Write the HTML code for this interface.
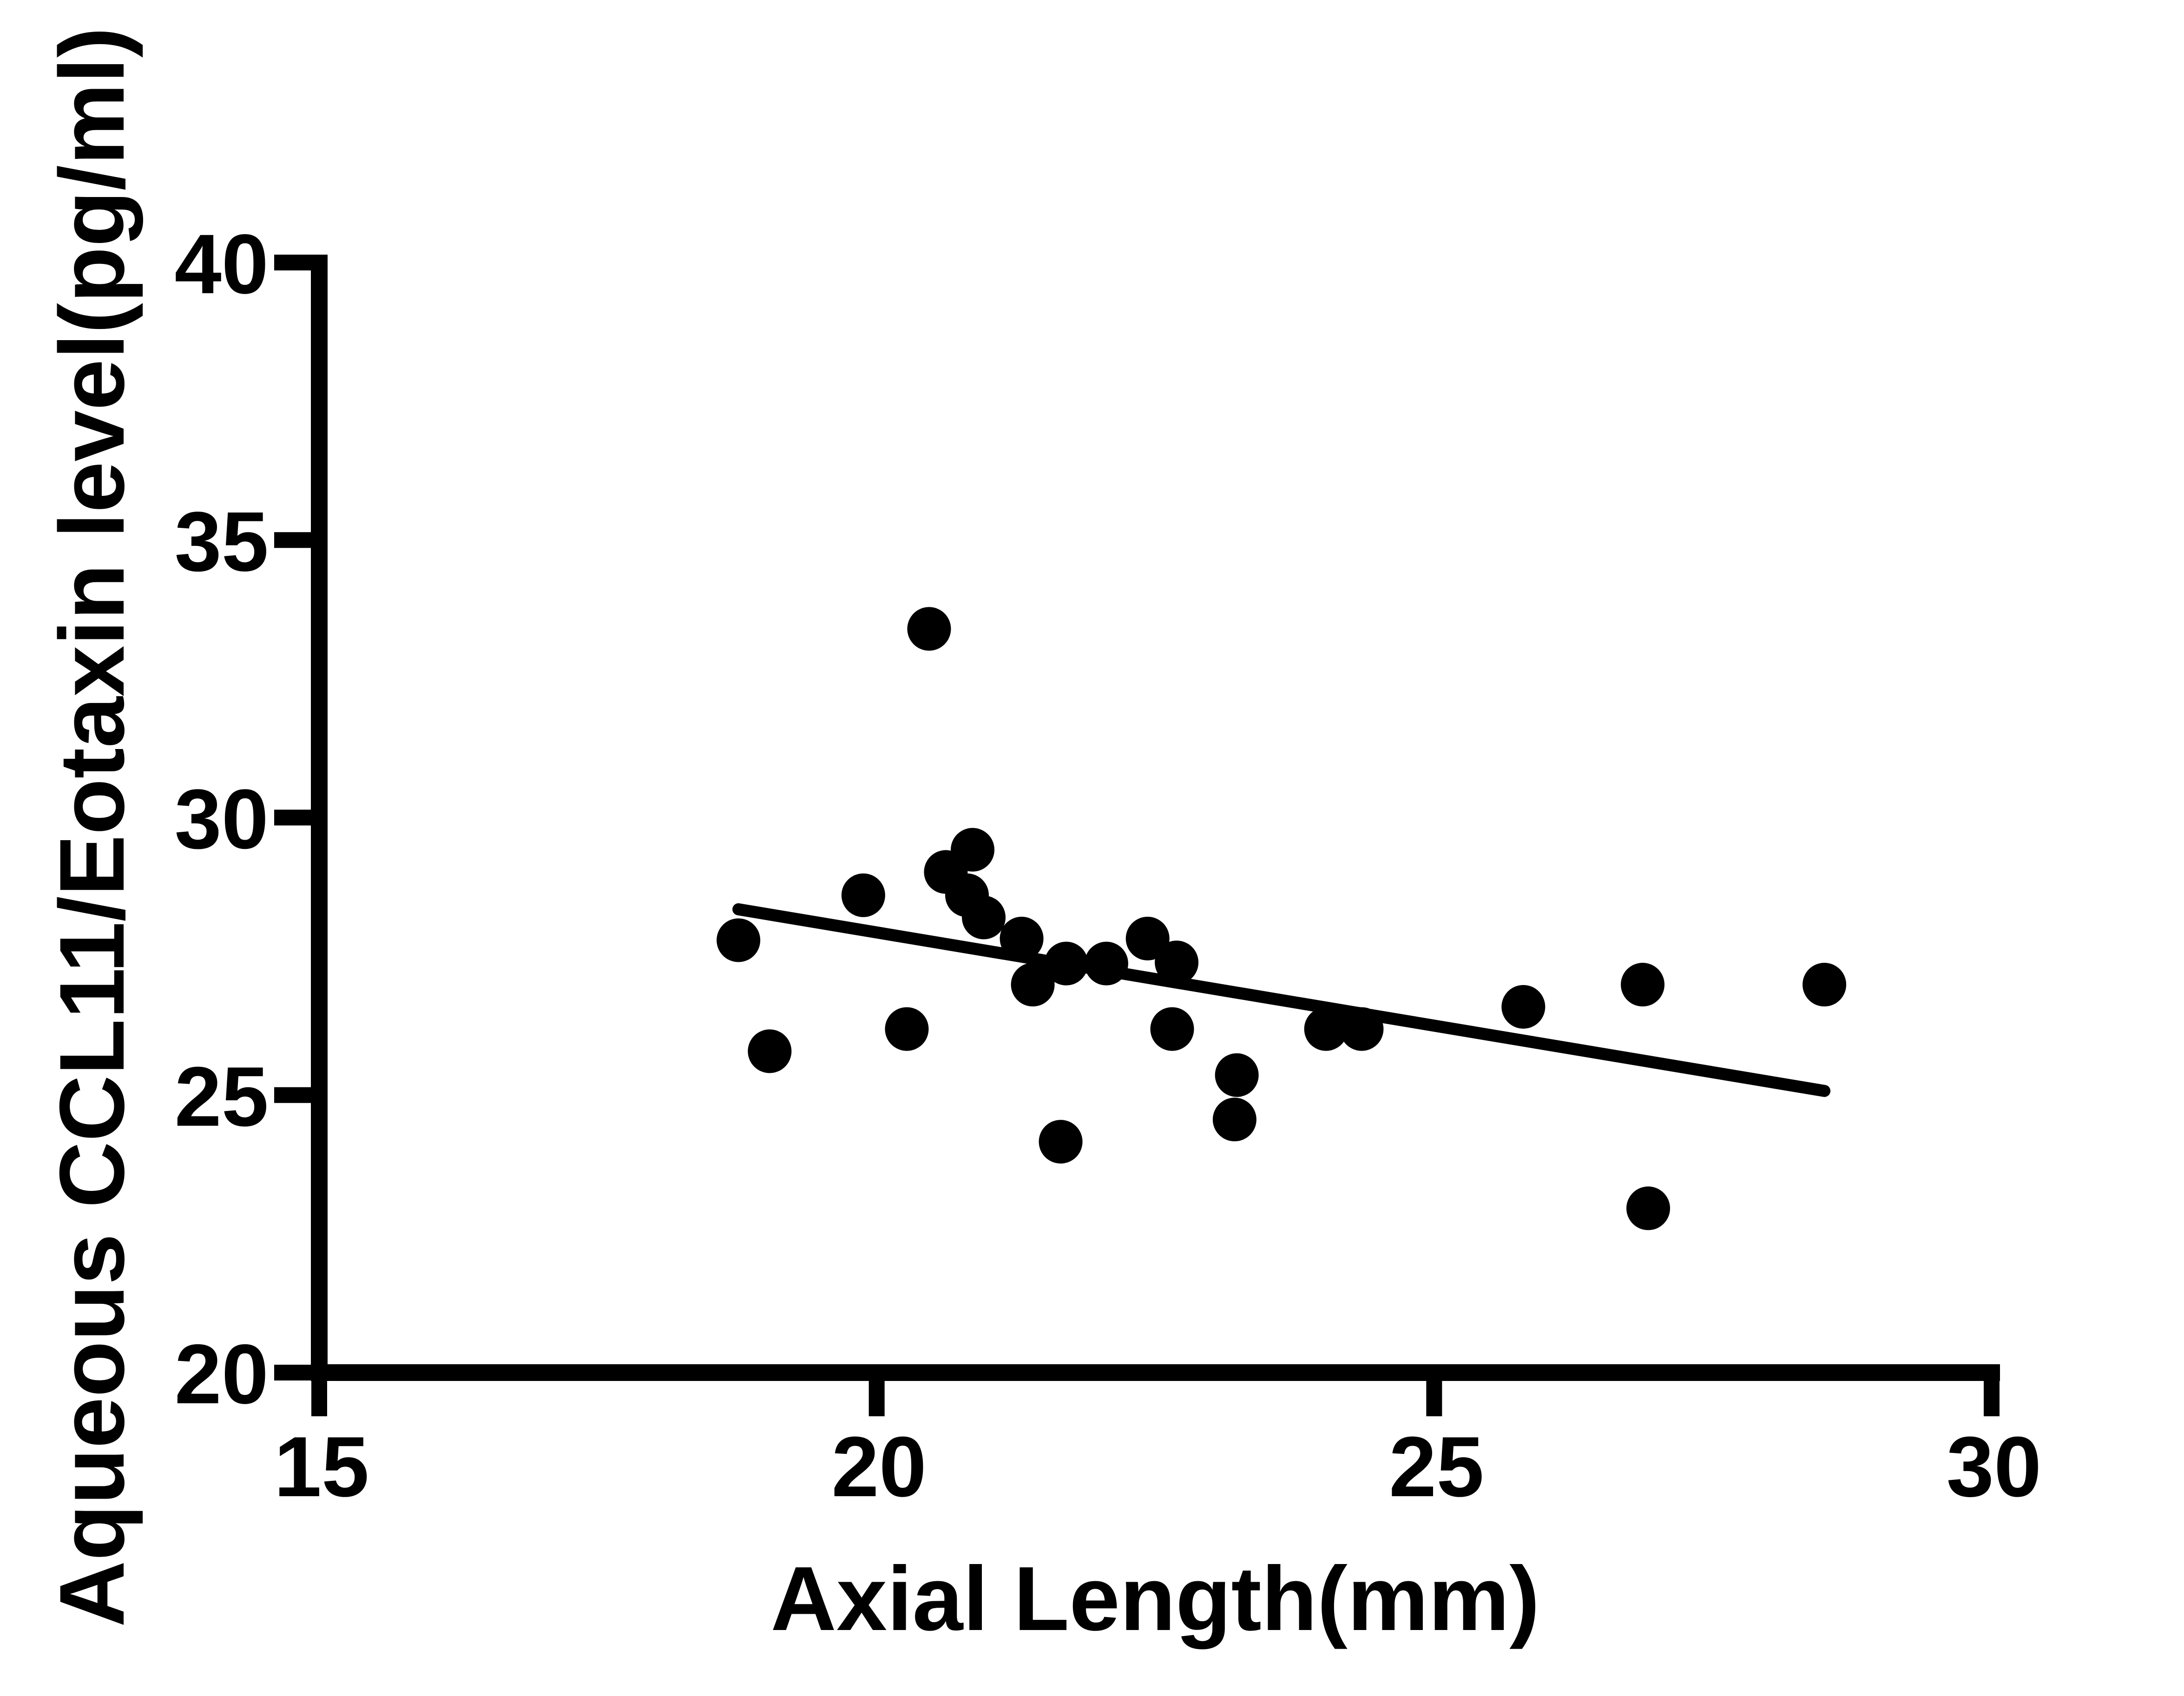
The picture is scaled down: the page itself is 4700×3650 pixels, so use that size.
<!DOCTYPE html>
<html><head><meta charset="utf-8"><style>
html,body{margin:0;padding:0;background:#fff;}
svg{display:block;}
text{font-family:"Liberation Sans",Arial,sans-serif;font-weight:bold;fill:#000;}
</style></head>
<body>
<svg id="chart" width="4700" height="3650" viewBox="0 0 4700 3650" xmlns="http://www.w3.org/2000/svg">
<rect width="4700" height="3650" fill="#fff"/>
<g id="axes"></g>
<g id="marks"></g>
<text x="2486" y="3508" font-size="196" text-anchor="middle">Axial Length(mm)</text>
<text transform="translate(266,1780) rotate(-90)" font-size="198" text-anchor="middle">Aqueous CCL11/Eotaxin level(pg/ml)</text>
</svg>
<script>
const xTicks = [15, 20, 25, 30];
const yTicks = [20, 25, 30, 35, 40];
const xVals = [18.76,19.04,19.88,20.27,20.47,20.62,20.86,20.81,20.96,21.30,21.40,21.65,21.70,22.06,22.43,22.69,22.65,23.23,23.21,24.03,24.35,25.80,26.87,26.92,28.50];
const yVals = [27.79,25.79,28.60,26.19,33.40,29.02,29.42,28.60,28.20,27.82,26.99,24.16,27.37,27.37,27.82,27.39,26.19,25.36,24.56,26.19,26.19,26.59,26.99,22.96,26.99];

const NS = "http://www.w3.org/2000/svg";
const X0 = 687, X1 = 4286, Y0 = 2954, Y1 = 565;
const xMin = 15, xMax = 30, yMin = 20, yMax = 40;
function sx(v){ return X0 + (v - xMin) / (xMax - xMin) * (X1 - X0); }
function sy(v){ return Y0 - (v - yMin) / (yMax - yMin) * (Y0 - Y1); }
function mk(tag, attrs, parent){
  const e = document.createElementNS(NS, tag);
  for (const k in attrs) e.setAttribute(k, attrs[k]);
  parent.appendChild(e);
  return e;
}
const axes = document.getElementById('axes');
const marks = document.getElementById('marks');

let a = mk('line', {x1:X0, y1:Y1-17, x2:X0, y2:Y0+18, stroke:'#000', 'stroke-width':36}, axes);


a = mk('line', {x1:X0-18, y1:Y0, x2:X1+18, y2:Y0, stroke:'#000', 'stroke-width':36}, axes);



xTicks.forEach(function(t){
  const tk = mk('line', {x1:sx(t), y1:Y0, x2:sx(t), y2:3048, stroke:'#000', 'stroke-width':34}, axes);
  
  
  const lb = mk('text', {x:sx(t)+5, y:3220, 'font-size':184, 'text-anchor':'middle'}, axes);
  lb.textContent = t;
  
  
});
yTicks.forEach(function(t){
  const tk = mk('line', {x1:590, y1:sy(t), x2:X0, y2:sy(t), stroke:'#000', 'stroke-width':34}, axes);
  
  
  const lb = mk('text', {x:578, y:sy(t)+66, 'font-size':182, 'text-anchor':'end'}, axes);
  lb.textContent = t;
  
  
});

// regression line
const n = xVals.length;
let mx = 0, my = 0;
for (let i = 0; i < n; i++){ mx += xVals[i]; my += yVals[i]; }
mx /= n; my /= n;
let sxy = 0, sxx = 0;
for (let i = 0; i < n; i++){ sxy += (xVals[i]-mx)*(yVals[i]-my); sxx += (xVals[i]-mx)*(xVals[i]-mx); }
const slope = sxy / sxx, icpt = my - slope * mx;
const xa = Math.min.apply(null, xVals), xb = Math.max.apply(null, xVals);
const reg = mk('line', {x1:sx(xa), y1:sy(icpt+slope*xa), x2:sx(xb), y2:sy(icpt+slope*xb), stroke:'#000', 'stroke-width':26, 'stroke-linecap':'round'}, marks);



for (let i = 0; i < n; i++){
  const c = mk('circle', {cx:sx(xVals[i]), cy:sy(yVals[i]), r:47, fill:'#000'}, marks);
  
  
}
</script>
</body></html>
